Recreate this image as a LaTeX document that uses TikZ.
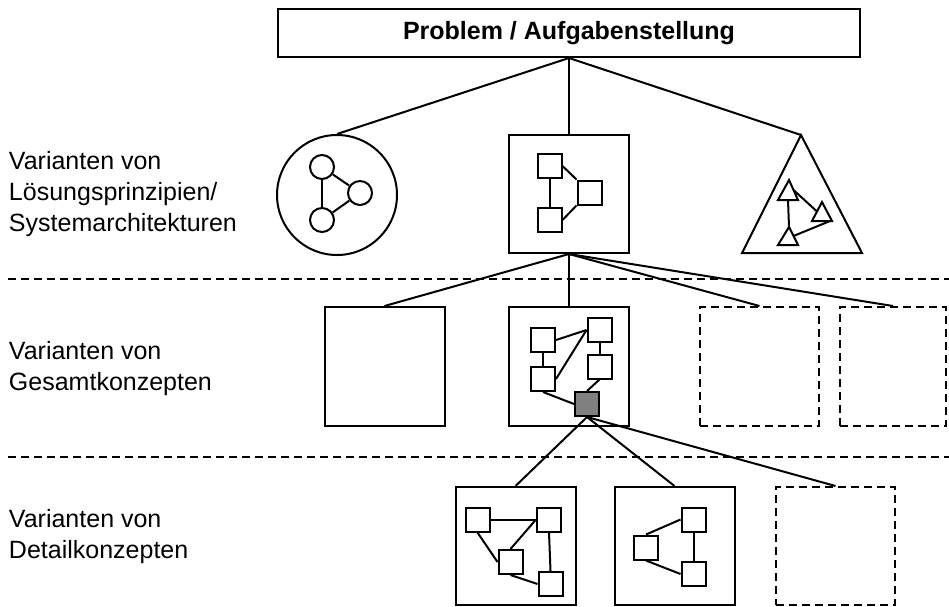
\documentclass[tikz,border=0pt]{standalone}
\usepackage{fontspec}
\setmainfont{Liberation Sans}

\begin{document}
\begin{tikzpicture}[x=1pt,y=-1pt,line width=2pt]
\tikzstyle{every node}+=[inner sep=0pt]
\tikzstyle{frame}=[draw,minimum width=120pt,minimum height=119pt]
\tikzstyle{ghost}=[draw,dash pattern=on 8pt off 5pt,minimum width=119pt,minimum height=119pt]
\tikzstyle{sq}=[draw,fill=white,minimum size=24pt]
\tikzstyle{dot}=[draw,circle,minimum size=24pt]
\tikzstyle{rowtext}=[anchor=west,align=left,font=\fontsize{25}{31}\selectfont]
\tikzstyle{sep}=[dash pattern=on 8pt off 5pt]
\useasboundingbox (0,0) rectangle (949,606);
% title
\node[draw,minimum width=582pt,minimum height=48pt,font=\bfseries\fontsize{25}{28}\selectfont] (problem) at (569,33) {Problem / Aufgabenstellung};
% row labels
\node[rowtext] (lvprinz) at (8,194) {Varianten von\\Lösungsprinzipien/\\Systemarchitekturen};
\node[rowtext] (lvgesamt) at (8,369) {Varianten von\\Gesamtkonzepten};
\node[rowtext] (lvdetail) at (8,537) {Varianten von\\Detailkonzepten};
\draw[sep] (8,279) -- (949,279);
\draw[sep] (8,457) -- (949,457);
% principles
\node[draw,circle,minimum size=120pt] (pcirc) at (337,195) {};
\node[frame,minimum height=118pt] (pbox) at (569,194) {};
\draw (801,135) coordinate (ptri) -- (862,253) -- (742,253) -- cycle;
\draw (problem.south) -- (pcirc.north);
\draw (problem.south) -- (pbox.north);
\draw (problem.south) -- (ptri);
\node[dot] (c1) at (322,167) {};
\node[dot] (c2) at (360,193) {};
\node[dot] (c3) at (322,220) {};
\draw (c1) -- (c3);
\draw (c1) -- (c2);
\draw (c3) -- (c2);
\node[sq] (s1) at (549.5,166) {};
\node[sq] (s2) at (589.5,192.5) {};
\node[sq] (s3) at (549.5,220) {};
\draw (s1) -- (s3);
\draw (s1.east) -- (s2.north west);
\draw (s3.east) -- (s2.south west);
\draw (789,180) -- (798,200) coordinate[pos=.5] (t1r) -- (778,200) coordinate[pos=.5] (t1b) -- cycle;
\draw (822,202) coordinate (t2) -- (832,221) -- (812,221) coordinate[pos=.1] (t2b) -- cycle coordinate[pos=.5] (t2l);
\draw (789,227) coordinate (t3) -- (798,245) coordinate[pos=.5] (t3r) -- (778,245) -- cycle;
\draw (t1b) -- (t3);
\draw (t1r) -- (t2l);
\draw (t3r) -- (t2b);
% overall concepts
\node[frame] (g1) at (384.5,366.5) {};
\node[frame] (g2) at (569,366.5) {};
\node[ghost] (g3) at (759.5,366.5) {};
\node[ghost,minimum width=106pt] (g4) at (893,366.5) {};
\draw (pbox.south) -- (g1.north);
\draw (pbox.south) -- (g2.north);
\draw (pbox.south) -- (g3.north);
\draw (pbox.south) -- (g4.north);
\node[sq] (ga) at (543,340) {};
\node[sq] (gb) at (599.5,330) {};
\node[sq] (gc) at (543,379) {};
\node[sq] (gd) at (599.5,366.5) {};
\node[sq,fill=gray] (ge) at (587,404) {};
\draw (ga.east) -- (gb.west);
\draw (gc.east) -- (gb.west);
\draw (ga) -- (gc);
\draw (gb) -- (gd);
\draw (gd.south) -- (ge.north);
\draw (gc.south) -- (ge.west);
% detail concepts
\node[frame,minimum height=118pt] (d1) at (515.5,546) {};
\node[frame,minimum height=118pt] (d2) at (674.5,546) {};
\node[ghost,minimum height=118pt] (d3) at (835.5,546) {};
\draw (ge.south) -- (d1.north);
\draw (ge.south) -- (d2.north);
\draw (ge.south) -- (d3.north);
\node[sq] (dp) at (477.5,519.5) {};
\node[sq] (dq) at (549,519.5) {};
\node[sq] (dr) at (510.5,562) {};
\node[sq] (ds) at (550.5,584) {};
\draw (dp.east) -- (dq.west);
\draw (dp.south) -- (dr.west);
\draw (dr.north) -- (dq.west);
\draw (dq.south) -- (ds.north);
\draw (dr.south) -- (ds.west);
\node[sq] (dt) at (693.5,519.5) {};
\node[sq] (du) at (646,547.5) {};
\node[sq] (dv) at (693.5,574) {};
\draw (du.north) -- (dt.west);
\draw (du.south) -- (dv.west);
\draw (dt) -- (dv);
\end{tikzpicture}
\end{document}
